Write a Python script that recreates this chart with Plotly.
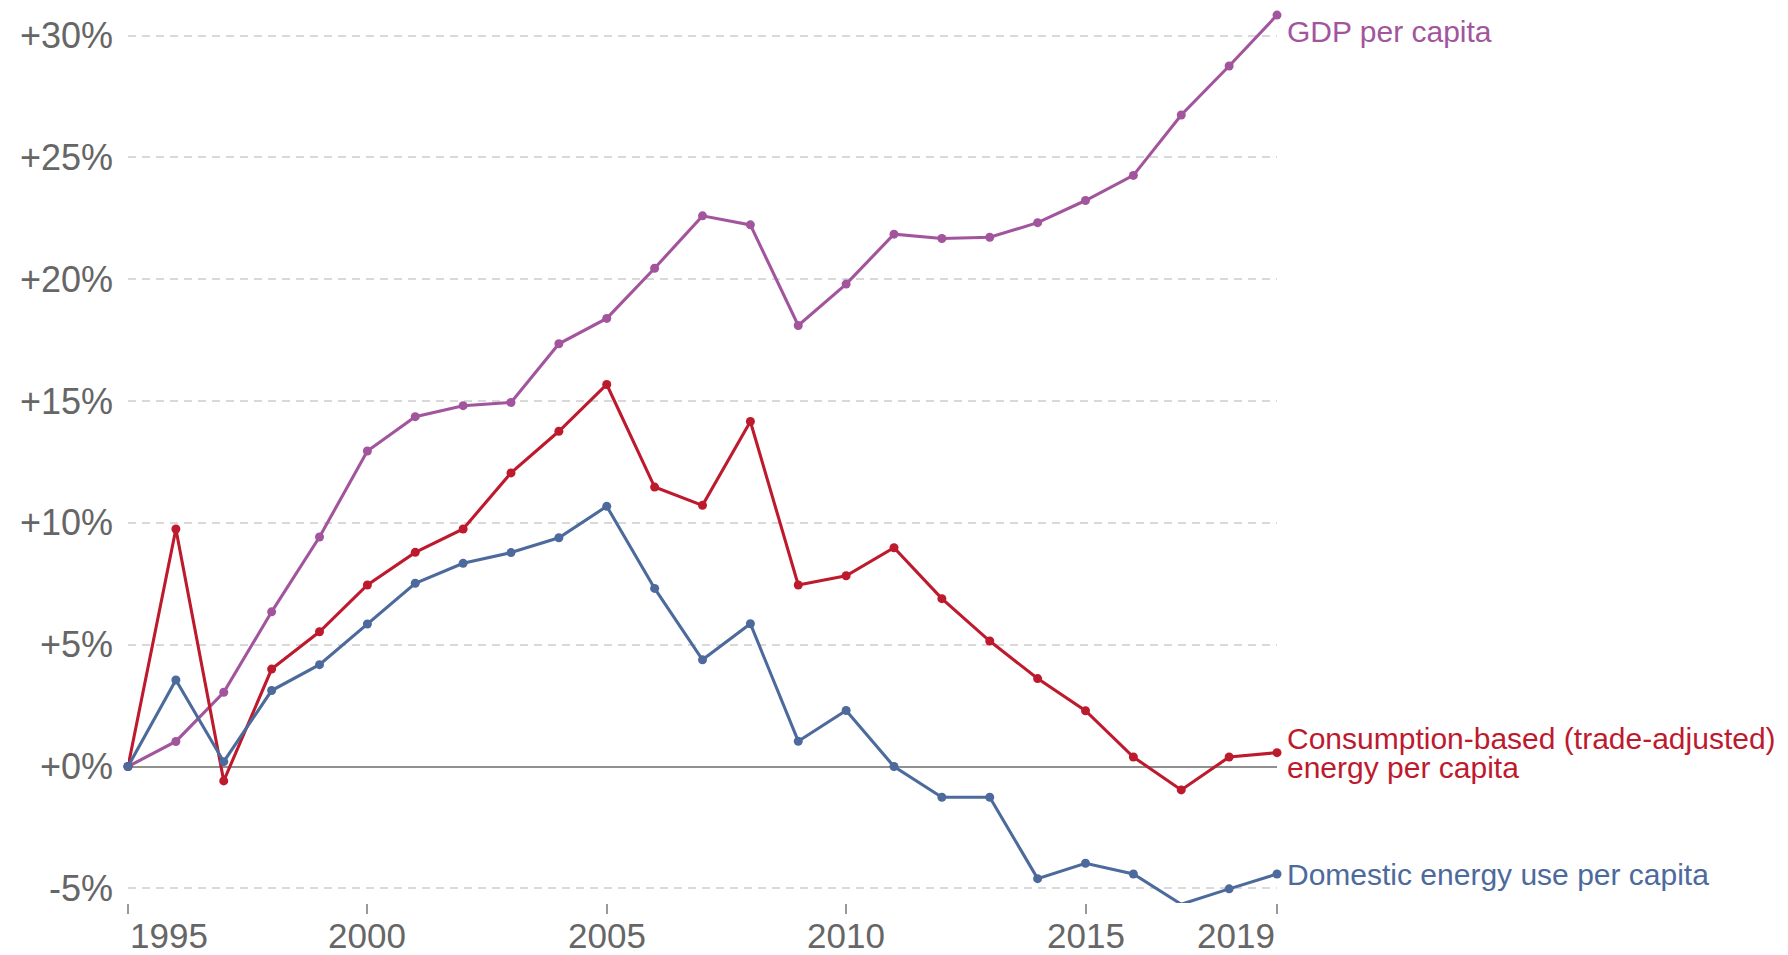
import plotly.graph_objects as go

years = list(range(1995, 2020))

gdp_per_capita = [0.0, 1.03, 3.05, 6.35, 9.42, 12.95, 14.36, 14.81, 14.94, 17.35,
                  18.39, 20.45, 22.6, 22.23, 18.1, 19.8, 21.85, 21.67, 21.72, 22.32,
                  23.23, 24.26, 26.74, 28.75, 30.84]

consumption_energy = [0.0, 9.75, -0.59, 4.0, 5.53, 7.45, 8.79, 9.75, 12.05, 13.76,
                      15.68, 11.47, 10.72, 14.16, 7.45, 7.83, 8.98, 6.89, 5.15, 3.61,
                      2.29, 0.39, -0.96, 0.39, 0.57]

domestic_energy = [0.0, 3.55, 0.2, 3.12, 4.18, 5.85, 7.52, 8.34, 8.78, 9.39,
                   10.68, 7.31, 4.38, 5.86, 1.04, 2.3, 0.0, -1.26, -1.26, -4.6,
                   -3.97, -4.41, -5.65, -5.02, -4.41]

x_tick_years = [1995, 2000, 2005, 2010, 2015, 2019]
y_tick_values = [-5, 0, 5, 10, 15, 20, 25, 30]
y_tick_labels = ["-5%", "+0%", "+5%", "+10%", "+15%", "+20%", "+25%", "+30%"]

series = [
    ("GDP per capita", gdp_per_capita, "#a2559c"),
    ("Consumption-based (trade-adjusted) energy per capita", consumption_energy, "#be1a2e"),
    ("Domestic energy use per capita", domestic_energy, "#4c6a9c"),
]

FONT = "Liberation Sans, Arial, Helvetica, sans-serif"
GRAY = "#666666"

fig = go.Figure()
for name, vals, color in series:
    fig.add_trace(go.Scatter(
        x=years, y=vals, name=name, mode="lines+markers",
        line=dict(color=color, width=3.1),
        marker=dict(color=color, size=9),
        cliponaxis=False, showlegend=False,
    ))

annotations = []
# series labels at the right end
annotations.append(dict(x=years[-1], y=gdp_per_capita[-1], xref="x", yref="y",
                        text="GDP per capita", showarrow=False, xanchor="left",
                        yanchor="middle", xshift=8, yshift=-16,
                        font=dict(family=FONT, size=30, color="#a2559c")))
annotations.append(dict(x=years[-1], y=consumption_energy[-1], xref="x", yref="y",
                        text="Consumption-based (trade-adjusted)", showarrow=False,
                        xanchor="left", yanchor="middle", xshift=8, yshift=14,
                        font=dict(family=FONT, size=30, color="#be1a2e")))
annotations.append(dict(x=years[-1], y=consumption_energy[-1], xref="x", yref="y",
                        text="energy per capita", showarrow=False,
                        xanchor="left", yanchor="middle", xshift=8, yshift=-15,
                        font=dict(family=FONT, size=30, color="#be1a2e")))
annotations.append(dict(x=years[-1], y=domestic_energy[-1], xref="x", yref="y",
                        text="Domestic energy use per capita", showarrow=False,
                        xanchor="left", yanchor="middle", xshift=8, yshift=0,
                        font=dict(family=FONT, size=30, color="#4c6a9c")))

# x-axis year labels (first left-aligned, last right-aligned)
for i, yr in enumerate(x_tick_years):
    anchor = "left" if i == 0 else ("right" if i == len(x_tick_years) - 1 else "center")
    annotations.append(dict(x=yr, y=0, xref="x", yref="paper", text=str(yr),
                            showarrow=False, xanchor=anchor, yanchor="top",
                            yshift=-11,
                            font=dict(family=FONT, size=35, color=GRAY)))

# page has an 8px body margin, so the figure is sized to fit the window
fig.update_layout(
    width=1780, height=947,
    margin=dict(l=119.7, r=511, t=0, b=52, pad=0),
    plot_bgcolor="white", paper_bgcolor="white",
    font=dict(family=FONT, color=GRAY),
    annotations=annotations,
    xaxis=dict(range=[1995, 2019], showgrid=False, zeroline=False,
               showline=False, tickvals=x_tick_years, ticktext=[""] * len(x_tick_years),
               ticks="outside", ticklen=10, tickwidth=1.5, tickcolor="#999999",
               fixedrange=True),
    yaxis=dict(range=[-5.60, 31.13], tickvals=y_tick_values, ticktext=y_tick_labels,
               showgrid=True, gridcolor="#d9d9d9", gridwidth=1.5, griddash="8px,6px",
               zeroline=True, zerolinecolor="#8f8f8f", zerolinewidth=1.5,
               showline=False, ticks="", ticklabelstandoff=14,
               tickfont=dict(family=FONT, size=36, color=GRAY), fixedrange=True),
)

fig.write_html("out.html")
